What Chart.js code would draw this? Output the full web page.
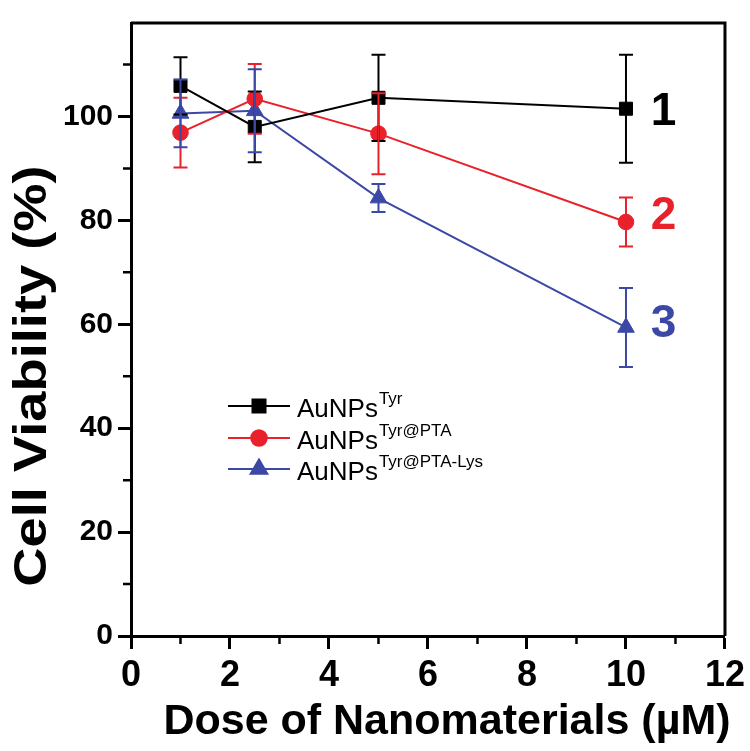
<!DOCTYPE html>
<html><head><meta charset="utf-8">
<script src="https://cdn.jsdelivr.net/npm/chart.js@4/dist/chart.umd.min.js"></script>
<style>html,body{margin:0;padding:0;background:#fff}</style>
</head><body>
<canvas id="c" width="750" height="751"></canvas>
<script>
// ---- data ----
const doses = [1, 2.5, 5, 10];
const viabTyr = [105.9, 98.0, 103.6, 101.5];
const errTyr  = [5.5, 6.8, 8.3, 10.4];
const viabPTA = [96.9, 103.4, 96.7, 79.7];
const errPTA  = [6.7, 6.7, 7.8, 4.7];
const viabLys = [100.6, 101.1, 84.3, 59.4];
const errLys  = [6.5, 8.0, 2.7, 7.6];
const seriesBase = ['AuNPs', 'AuNPs', 'AuNPs'];
const seriesSup  = ['Tyr', 'Tyr@PTA', 'Tyr@PTA-Lys'];
const xTicks = [0, 2, 4, 6, 8, 10, 12];
const xMinor = [1, 3, 5, 7, 9, 11];
const yTicks = [0, 20, 40, 60, 80, 100];
const yMinor = [10, 30, 50, 70, 90, 110];
const tagText = ['1', '2', '3'];
const tagX = 10.5;
const tagY = [100.8, 80.8, 60.0];
const xTitle = 'Dose of Nanomaterials (\u00B5M)';
const yTitle = 'Cell Viability (%)';

const colors = ['#000000', '#e8212b', '#3b48a5'];
const styles = ['rect', 'circle', 'triangle'];
const radii = [9.2, 7.8, 9.6];
const values = [viabTyr, viabPTA, viabLys];
const errors = [errTyr, errPTA, errLys];
const FONT = "'Liberation Sans', Arial, Helvetica, sans-serif";
const NARROW = "'Liberation Sans Narrow', 'Arial Narrow', 'Liberation Sans', sans-serif";

const datasets = values.map((vals, k) => ({
  label: seriesBase[k] + seriesSup[k],
  data: doses.map((x, i) => ({ x: x, y: vals[i] })),
  borderColor: colors[k],
  backgroundColor: colors[k],
  pointBackgroundColor: colors[k],
  pointBorderColor: colors[k],
  pointStyle: styles[k],
  pointRadius: radii[k],
  pointBorderWidth: 1,
  borderWidth: 2,
  tension: 0,
  fill: false
}));

const decor = {
  id: 'decor',
  afterDatasetsDraw(chart) {
    const ctx = chart.ctx, xs = chart.scales.x, ys = chart.scales.y;
    ctx.save();
    // error bars
    values.forEach((vals, k) => {
      ctx.strokeStyle = colors[k];
      ctx.lineWidth = 2;
      doses.forEach((d, i) => {
        const px = xs.getPixelForValue(d);
        const top = ys.getPixelForValue(vals[i] + errors[k][i]);
        const bot = ys.getPixelForValue(vals[i] - errors[k][i]);
        ctx.beginPath();
        ctx.moveTo(px, top); ctx.lineTo(px, bot);
        ctx.moveTo(px - 7, top); ctx.lineTo(px + 7, top);
        ctx.moveTo(px - 7, bot); ctx.lineTo(px + 7, bot);
        ctx.stroke();
      });
    });
    ctx.restore();
  },
  afterDraw(chart) {
    const ctx = chart.ctx, xs = chart.scales.x, ys = chart.scales.y, a = chart.chartArea;
    ctx.save();
    // frame top/right
    ctx.strokeStyle = '#000';
    ctx.lineWidth = 3;
    ctx.beginPath();
    ctx.moveTo(a.left, a.top); ctx.lineTo(a.right, a.top); ctx.lineTo(a.right, a.bottom);
    ctx.stroke();
    // minor ticks
    ctx.lineWidth = 2.5;
    ctx.beginPath();
    xMinor.forEach(v => { const p = xs.getPixelForValue(v); ctx.moveTo(p, a.bottom); ctx.lineTo(p, a.bottom + 8); });
    yMinor.forEach(v => { const p = ys.getPixelForValue(v); ctx.moveTo(a.left, p); ctx.lineTo(a.left - 8, p); });
    ctx.stroke();
    // series tags
    ctx.font = 'bold 46px ' + FONT;
    ctx.textAlign = 'left';
    ctx.textBaseline = 'middle';
    tagText.forEach((t, k) => {
      ctx.fillStyle = colors[k];
      ctx.fillText(t, xs.getPixelForValue(tagX), ys.getPixelForValue(tagY[k]));
    });
    // legend
    const lx0 = 228, lx1 = 290, lm = 259, tx = 297, rows = [406, 438, 469];
    chart.data.datasets.forEach((ds, k) => {
      const y = rows[k];
      ctx.strokeStyle = colors[k];
      ctx.lineWidth = 2;
      ctx.beginPath(); ctx.moveTo(lx0, y); ctx.lineTo(lx1, y); ctx.stroke();
      ctx.fillStyle = colors[k];
      Chart.helpers.drawPoint(ctx, { pointStyle: styles[k], radius: radii[k], borderWidth: 1, rotation: 0 }, lm, y);
      ctx.fillStyle = '#000';
      ctx.textBaseline = 'alphabetic';
      ctx.font = '26px ' + FONT;
      ctx.fillText(seriesBase[k], tx, y + 11);
      const w = ctx.measureText(seriesBase[k]).width;
      ctx.font = '17px ' + FONT;
      ctx.fillText(seriesSup[k], tx + w + 1, y - 2);
    });
    // axis titles
    ctx.fillStyle = '#000';
    ctx.font = 'bold 43px ' + FONT;
    ctx.textAlign = 'center';
    ctx.textBaseline = 'alphabetic';
    ctx.fillText(xTitle, 447, 734);
    ctx.translate(33, 376);
    ctx.rotate(-Math.PI / 2);
    ctx.scale(1.18, 1);
    ctx.font = 'bold 46px ' + FONT;
    ctx.textBaseline = 'middle';
    ctx.fillText(yTitle, 0, 0);
    ctx.restore();
  }
};

new Chart(document.getElementById('c'), {
  type: 'line',
  data: { datasets: datasets },
  options: {
    responsive: false,
    animation: false,
    devicePixelRatio: 1,
    layout: { padding: { top: 19, right: 22, left: 0, bottom: 0 } },
    plugins: { legend: { display: false }, tooltip: { enabled: false } },
    scales: {
      x: {
        type: 'linear', min: 0, max: 12,
        afterBuildTicks: s => { s.ticks = xTicks.map(v => ({ value: v })); },
        afterFit: s => { s.height = 115; },
        grid: { drawOnChartArea: false, drawTicks: true, tickLength: 13, tickWidth: 3, tickColor: '#000' },
        border: { display: true, color: '#000', width: 3 },
        ticks: { color: '#000', autoSkip: false, maxRotation: 0, padding: 5, font: { family: NARROW, size: 36, weight: 'bold' } }
      },
      y: {
        type: 'linear', min: 0, max: 118,
        afterBuildTicks: s => { s.ticks = yTicks.map(v => ({ value: v })); },
        afterFit: s => { s.width = 131; },
        grid: { drawOnChartArea: false, drawTicks: true, tickLength: 13, tickWidth: 3, tickColor: '#000' },
        border: { display: true, color: '#000', width: 3 },
        ticks: { color: '#000', autoSkip: false, padding: 5, font: { family: FONT, size: 30, weight: 'bold' } }
      }
    }
  },
  plugins: [decor]
});
</script>
</body></html>
